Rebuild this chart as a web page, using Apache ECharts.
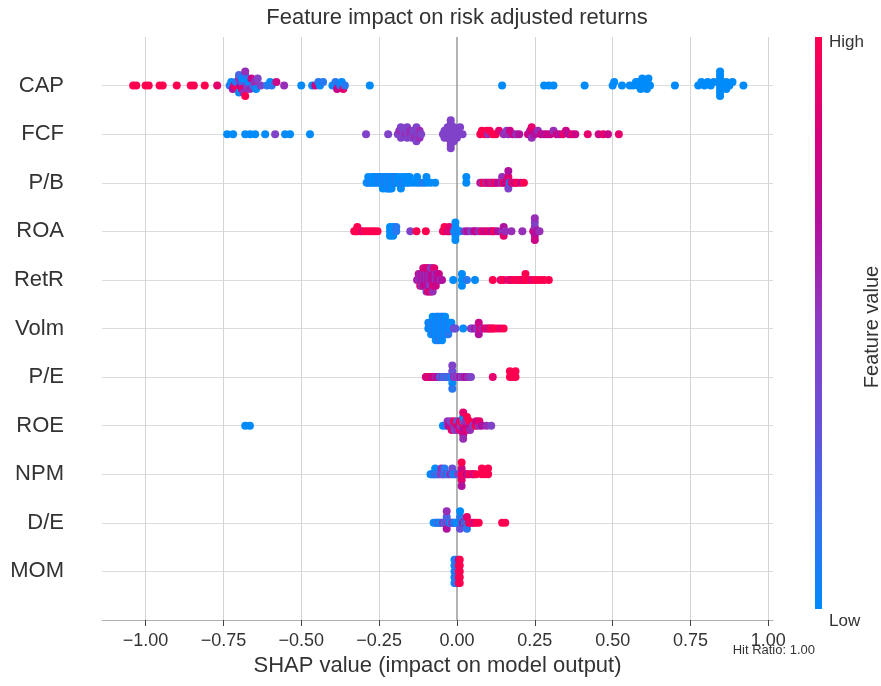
<!DOCTYPE html>
<html><head><meta charset="utf-8">
<script src="https://cdn.jsdelivr.net/npm/echarts@6/dist/echarts.min.js"></script>
<style>html,body{margin:0;padding:0;background:#fff}#c{width:881px;height:686px}</style>
</head><body><div id="c"></div><script>
const features = ['CAP','FCF','P/B','ROA','RetR','Volm','P/E','ROE','NPM','D/E','MOM'];
const xTicks = [-1,-0.75,-0.5,-0.25,0,0.25,0.5,0.75,1];
// points: [SHAP value, feature value (0 low .. 9 high), count]
const capPts = [[-1.04,9],[-1.03,9],[-1.0,9],[-0.99,9],[-0.955,9],[-0.945,9],[-0.9,9],[-0.855,9],[-0.845,9],[-0.81,9],[-0.77,8],
[-0.73,1],[-0.725,0],[-0.72,6],[-0.715,8],[-0.71,1],[-0.705,9],[-0.7,5],[-0.7,0],[-0.7,2],[-0.695,6],[-0.69,2],[-0.69,8],[-0.69,0],[-0.685,5],[-0.68,1],[-0.68,9],[-0.68,5],[-0.675,4],[-0.67,0],[-0.665,5],[-0.66,7],[-0.655,2],[-0.65,5],[-0.645,0],[-0.64,4],
[-0.63,4],[-0.61,1],[-0.6,0],[-0.595,1],[-0.58,7],[-0.555,5],
[-0.5,0],[-0.465,0],[-0.455,7],[-0.445,1],[-0.44,0],[-0.43,1],[-0.4,0],[-0.39,1],[-0.385,7],[-0.375,1],[-0.37,0],[-0.365,8],[-0.36,1],[-0.28,0],
[0.145,0],[0.28,0],[0.295,0],[0.31,0],[0.41,0],[0.5,0],[0.505,0],[0.53,0],[0.555,0],[0.565,0],[0.575,0],[0.58,0],[0.585,0],[0.59,0],[0.595,0],[0.6,0],[0.605,0],[0.61,0],[0.615,0],[0.62,0],[0.7,0],
[0.775,0],[0.785,0],[0.795,0],[0.805,0],[0.815,0],[0.825,0],[0.845,0,8],[0.865,0,3],[0.875,0],[0.885,0],[0.92,0]];
const fcfPts = [[-0.738,0],[-0.719,0],[-0.68,0],[-0.664,0],[-0.648,0],[-0.616,0],[-0.584,4],[-0.552,0],[-0.536,0],[-0.472,0],
[-0.292,4],[-0.221,4],[-0.19,4],[-0.185,5],[-0.18,4,2],[-0.17,4,2],[-0.165,5],[-0.16,4,3],[-0.15,5,2],[-0.145,4],[-0.14,4,2],[-0.135,5],[-0.13,4,2],[-0.125,4],[-0.12,5,2],[-0.115,4],
[-0.045,4],[-0.04,4,2],[-0.03,4,4],[-0.02,4,9],[-0.01,4,5],[0,4,3],[0.01,4],[0.018,4],
[0.075,9],[0.08,9],[0.09,9],[0.095,9],[0.1,5],[0.105,9],[0.115,9],[0.125,9],[0.135,8],
[0.15,5],[0.16,4],[0.165,5],[0.17,7],[0.18,7],[0.19,5],[0.2,6],
[0.228,7],[0.235,6],[0.24,7,2],[0.24,5],[0.24,8],[0.25,6],[0.26,5],[0.27,7],[0.28,6],[0.289,7],
[0.3,7],[0.31,5],[0.32,7],[0.33,6],[0.34,8],[0.35,7],[0.36,6],[0.37,8],[0.38,7],
[0.42,8],[0.455,7],[0.47,8],[0.485,7],[0.52,8]];
const pbPts = [[-0.29,0],[-0.285,0,2],[-0.278,1],[-0.272,0,2],[-0.265,0,2],[-0.258,0,2],[-0.25,1,2],[-0.245,0,2],[-0.238,0,3],[-0.232,1,2],[-0.226,0,3],[-0.221,0,3],[-0.215,1,3],[-0.21,0,3],[-0.204,0,2],[-0.198,1,2],[-0.192,0,2],[-0.186,0],[-0.18,0,3],[-0.174,1],[-0.168,0,2],[-0.16,0,2],[-0.152,0,2],[-0.14,0],[-0.128,0,2],[-0.118,0],[-0.108,1],[-0.098,0,2],[-0.085,0],[-0.07,0],
[0.03,0,2],
[0.075,7],[0.08,5],[0.085,9],[0.09,9],[0.095,5],[0.1,8],[0.105,6],[0.11,9],[0.115,5],[0.12,8],[0.125,9],[0.13,6],[0.14,7],[0.145,5,2],[0.15,9],[0.155,7],[0.16,6],[0.165,8,2],[0.165,4],[0.165,6],[0.17,0],[0.175,7],[0.18,9],[0.185,6],[0.19,8],[0.195,9],[0.205,7],[0.215,9]];
const roaPts = [[-0.33,9],[-0.325,9],[-0.32,9,2],[-0.31,9],[-0.305,8],[-0.295,9],[-0.285,9],[-0.275,9],[-0.265,9],[-0.255,9],
[-0.215,0,3],[-0.205,0,3],[-0.195,1,2],
[-0.15,4],[-0.13,9],[-0.1,9],
[-0.045,8],[-0.04,9,2],[-0.03,7],[-0.025,8,2],
[-0.01,1],[-0.005,0,5],[0.005,1],[0.01,0],
[0.025,5],[0.035,6],[0.045,4],[0.055,6],[0.06,7],[0.07,5],[0.08,8],[0.09,7],
[0.1,8],[0.11,7],[0.115,6],[0.12,9],[0.13,6],
[0.145,5],[0.15,4],[0.15,6],[0.15,8],[0.155,5],
[0.175,5],[0.21,5],
[0.245,7],[0.25,5],[0.25,6],[0.25,4],[0.25,7],[0.25,5],[0.258,6],[0.265,5]];
const retrPts = [[-0.128,6],[-0.123,5],[-0.123,7],[-0.118,5,2],[-0.118,8],[-0.113,6,2],[-0.113,4],[-0.108,5,2],[-0.108,7,2],[-0.103,6,3],[-0.103,8],[-0.098,5,2],[-0.098,7,2],[-0.098,4],[-0.093,6,3],[-0.093,8,2],[-0.088,5,3],[-0.088,7,2],[-0.083,6,2],[-0.083,4,2],[-0.083,8],[-0.078,7,3],[-0.078,5,2],[-0.073,6,2],[-0.073,8,2],[-0.068,5,2],[-0.068,7],[-0.063,6,2],[-0.058,7,2],[-0.053,5],[-0.048,6],
[-0.012,0],[0.016,0,3],[0.032,1],[0.058,0],
[0.115,9],[0.14,8],[0.15,9],[0.165,7],[0.17,9],[0.175,8],[0.185,9],[0.195,9],[0.2,8],[0.205,9],[0.21,9],[0.215,8],[0.22,9,2],[0.23,9],[0.24,8],[0.25,9],[0.26,9],[0.27,9],[0.28,9],[0.295,9]];
const volmPts = [[-0.092,0,2],[-0.087,1,2],[-0.083,0,3],[-0.078,0,4],[-0.073,1,3],[-0.068,0,5],[-0.063,0,4],[-0.058,1,5],[-0.053,0,4],[-0.048,0,5],[-0.043,1,4],[-0.038,0,4],[-0.033,0,3],[-0.028,1,3],[-0.023,0,2],[-0.018,0,2],
[-0.01,4],[-0.005,3],[0.02,0],
[0.045,5],[0.05,4],[0.058,6],[0.065,4],[0.07,5],[0.07,7],[0.07,6],[0.075,8],[0.082,5],[0.088,7],[0.095,9],[0.1,6],[0.105,8],[0.11,9],[0.115,8],[0.12,9],[0.13,9],[0.14,8],[0.15,9]];
const pePts = [[-0.1,8],[-0.097,7],[-0.093,8],[-0.09,6],[-0.087,9],[-0.083,7],[-0.08,8],[-0.077,6],[-0.073,7],[-0.07,8],[-0.067,5],[-0.063,7],[-0.06,6],
[-0.055,3],[-0.05,0],[-0.047,5],[-0.043,2],[-0.04,0],[-0.037,4],[-0.033,1],[-0.03,3],[-0.027,0],[-0.023,4],[-0.02,1],
[-0.015,0],[-0.015,3],[-0.015,0],[-0.015,4],[-0.015,1],
[-0.01,5],[-0.005,4],[0,5],[0.005,4],[0.01,6],[0.015,4],[0.02,5],[0.027,6],[0.035,5],[0.045,4],
[0.115,8],[0.17,9,2],[0.18,9],[0.188,9,2]];
const roePts = [[-0.68,0],[-0.665,0],
[-0.045,0],[-0.035,1],[-0.03,5],[-0.027,7],[-0.02,6],[-0.02,4],[-0.017,8],[-0.01,5],[-0.01,9],[-0.007,4],[0,7],[0,3],[0.002,5],[0.005,8],
[0.01,6],[0.01,8],[0.012,4],[0.012,9],
[0.02,9],[0.02,4],[0.02,6],[0.02,0],[0.02,7],[0.02,8],[0.02,5],
[0.03,7],[0.03,5],[0.032,8],[0.032,9],[0.04,6],[0.04,9],[0.042,5],[0.05,8],[0.052,4],[0.06,9],[0.062,7],[0.07,5],[0.072,8],[0.08,6],[0.095,5],[0.11,4]];
const npmPts = [[-0.085,0],[-0.08,1],[-0.078,0],[-0.072,3],[-0.07,0,2],[-0.065,4],[-0.062,0],[-0.058,2],[-0.05,5,2],[-0.047,4],[-0.042,3],[-0.04,1,2],[-0.033,4],[-0.028,0],[-0.022,5],[-0.015,3,2],[-0.012,0],[-0.007,2],[-0.003,0],[0.003,4],
[0.015,9],[0.015,7],[0.015,8],[0.015,9],[0.015,6],
[0.022,8],[0.025,9],[0.03,7],[0.035,6],[0.04,9],[0.048,8],[0.052,9],[0.055,7],[0.062,9],
[0.08,9,2],[0.09,9],[0.1,9,2]];
const dePts = [[-0.075,0],[-0.068,1],[-0.065,0],[-0.058,4],[-0.055,0],[-0.048,0],[-0.045,5],[-0.04,2],
[-0.033,4],[-0.033,2],[-0.033,6],[-0.033,5],
[-0.027,3],[-0.022,0],[-0.018,1],[-0.015,5],[-0.01,0],[-0.007,2],[-0.003,1],[0,0],
[0.01,0],[0.01,1],[0.01,3],[0.01,0],
[0.015,2],[0.02,6],[0.025,0],[0.03,7],[0.032,0],[0.032,8],[0.032,1],[0.038,9],[0.042,8],[0.048,9],[0.055,7],[0.062,9],[0.07,9],
[0.145,9],[0.155,9]];
const momPts = [[-0.008,0,5],[-0.005,1,5],[0.006,9,3],[0.006,6,1],[0.006,9,1],[0.009,9,5]];
const rowPts = [capPts,fcfPts,pbPts,roaPts,retrPts,volmPts,pePts,roePts,npmPts,dePts,momPts];
const colorStops = ['#008bfb','#3a6eec','#6a4fd6','#8c3cc4','#b1109f','#d8007c','#ff0051'];

// SHAP-style beeswarm offsets (same binning rule as shap.summary_plot)
function swarm(xs){
  const N = xs.length, nb = 100;
  const mn = Math.min(...xs), mx = Math.max(...xs);
  const q = xs.map(v => Math.round(nb*(v-mn)/(mx-mn+1e-8)));
  const inds = xs.map((_,i)=>i).sort((a,b)=>q[a]-q[b]||a-b);
  let layer=0,last=-1; const ys=new Array(N).fill(0);
  for(const i of inds){ if(q[i]!==last) layer=0; ys[i]=Math.ceil(layer/2)*((layer%2)*2-1); layer++; last=q[i]; }
  const m = Math.max(...ys)+1;
  return ys.map(y=>y*0.9*0.4/m);
}
const data = [];
rowPts.forEach((pts,ri)=>{
  const xs=[],cs=[];
  pts.forEach(p=>{const n=p[2]||1; for(let k=0;k<n;k++){xs.push(p[0]);cs.push(p[1]/9);}});
  const ys = swarm(xs);
  const base = features.length-1-ri;
  xs.forEach((x,i)=>data.push([x, base+ys[i], cs[i]]));
});

const FONT = "'Liberation Sans', Arial, Helvetica, sans-serif";
const chart = echarts.init(document.getElementById('c'),null,{renderer:'canvas'});
chart.setOption({
  animation:false,
  backgroundColor:'#fff',
  textStyle:{fontFamily:FONT},
  grid:{left:102,right:108,top:37,bottom:66},
  xAxis:{type:'value',min:-1.14,max:1.015,
    axisLine:{onZero:false,lineStyle:{color:'#b0b0b0',width:1}},
    axisTick:{show:true,length:6,customValues:xTicks,lineStyle:{color:'#444'}},
    axisLabel:{customValues:xTicks,fontSize:18,color:'#333',margin:12,fontFamily:FONT,
      formatter:v=>(v<0?'\u2212':'')+Math.abs(v).toFixed(2)},
    splitLine:{show:false},
    name:'SHAP value (impact on model output)',nameLocation:'middle',nameGap:35,
    nameTextStyle:{fontSize:22,color:'#333',fontFamily:FONT}},
  yAxis:{type:'value',min:-1,max:11,interval:1,
    axisLine:{show:false,onZero:false},axisTick:{show:false},
    axisLabel:{fontSize:22,color:'#333',margin:38,fontFamily:FONT,
      formatter:v=>(v>=0&&v<features.length)?features[features.length-1-v]:''},
    splitLine:{show:true,showMaxLine:false,showMinLine:false,lineStyle:{color:'#dcdcdc',width:1}}},
  visualMap:{type:'continuous',show:false,min:0,max:1,dimension:2,seriesIndex:0,inRange:{color:colorStops}},
  series:[
    {type:'scatter',data:data,symbolSize:8,z:3,itemStyle:{opacity:1}},
    {type:'line',data:[],z:1,silent:true,
      markLine:{silent:true,symbol:['none','none'],z:1,label:{show:false},animation:false,
        data:xTicks.map(v=>({xAxis:v,lineStyle:{color:v===0?'#9a9a9a':'#d4d4d4',width:v===0?1.5:1,type:'solid'}}))}}
  ],
  graphic:[
    {type:'rect',shape:{x:815,y:37,width:7,height:572},silent:true,
      style:{fill:new echarts.graphic.LinearGradient(0,1,0,0,colorStops.map((c,i)=>({offset:i/(colorStops.length-1),color:c})))}},
    {type:'text',x:457,y:18,style:{text:'Feature impact on risk adjusted returns',align:'center',verticalAlign:'middle',fontSize:22,fill:'#333',fontFamily:FONT}},
    {type:'text',x:829,y:42,style:{text:'High',align:'left',verticalAlign:'middle',fontSize:17,fill:'#333',fontFamily:FONT}},
    {type:'text',x:829,y:621,style:{text:'Low',align:'left',verticalAlign:'middle',fontSize:17,fill:'#333',fontFamily:FONT}},
    {type:'text',x:872,y:327,rotation:Math.PI/2,style:{text:'Feature value',align:'center',verticalAlign:'middle',fontSize:20,fill:'#333',fontFamily:FONT}},
    {type:'text',x:815,y:650,style:{text:'Hit Ratio: 1.00',align:'right',verticalAlign:'middle',fontSize:13,fill:'#333',fontFamily:FONT}}
  ]
});
</script></body></html>
